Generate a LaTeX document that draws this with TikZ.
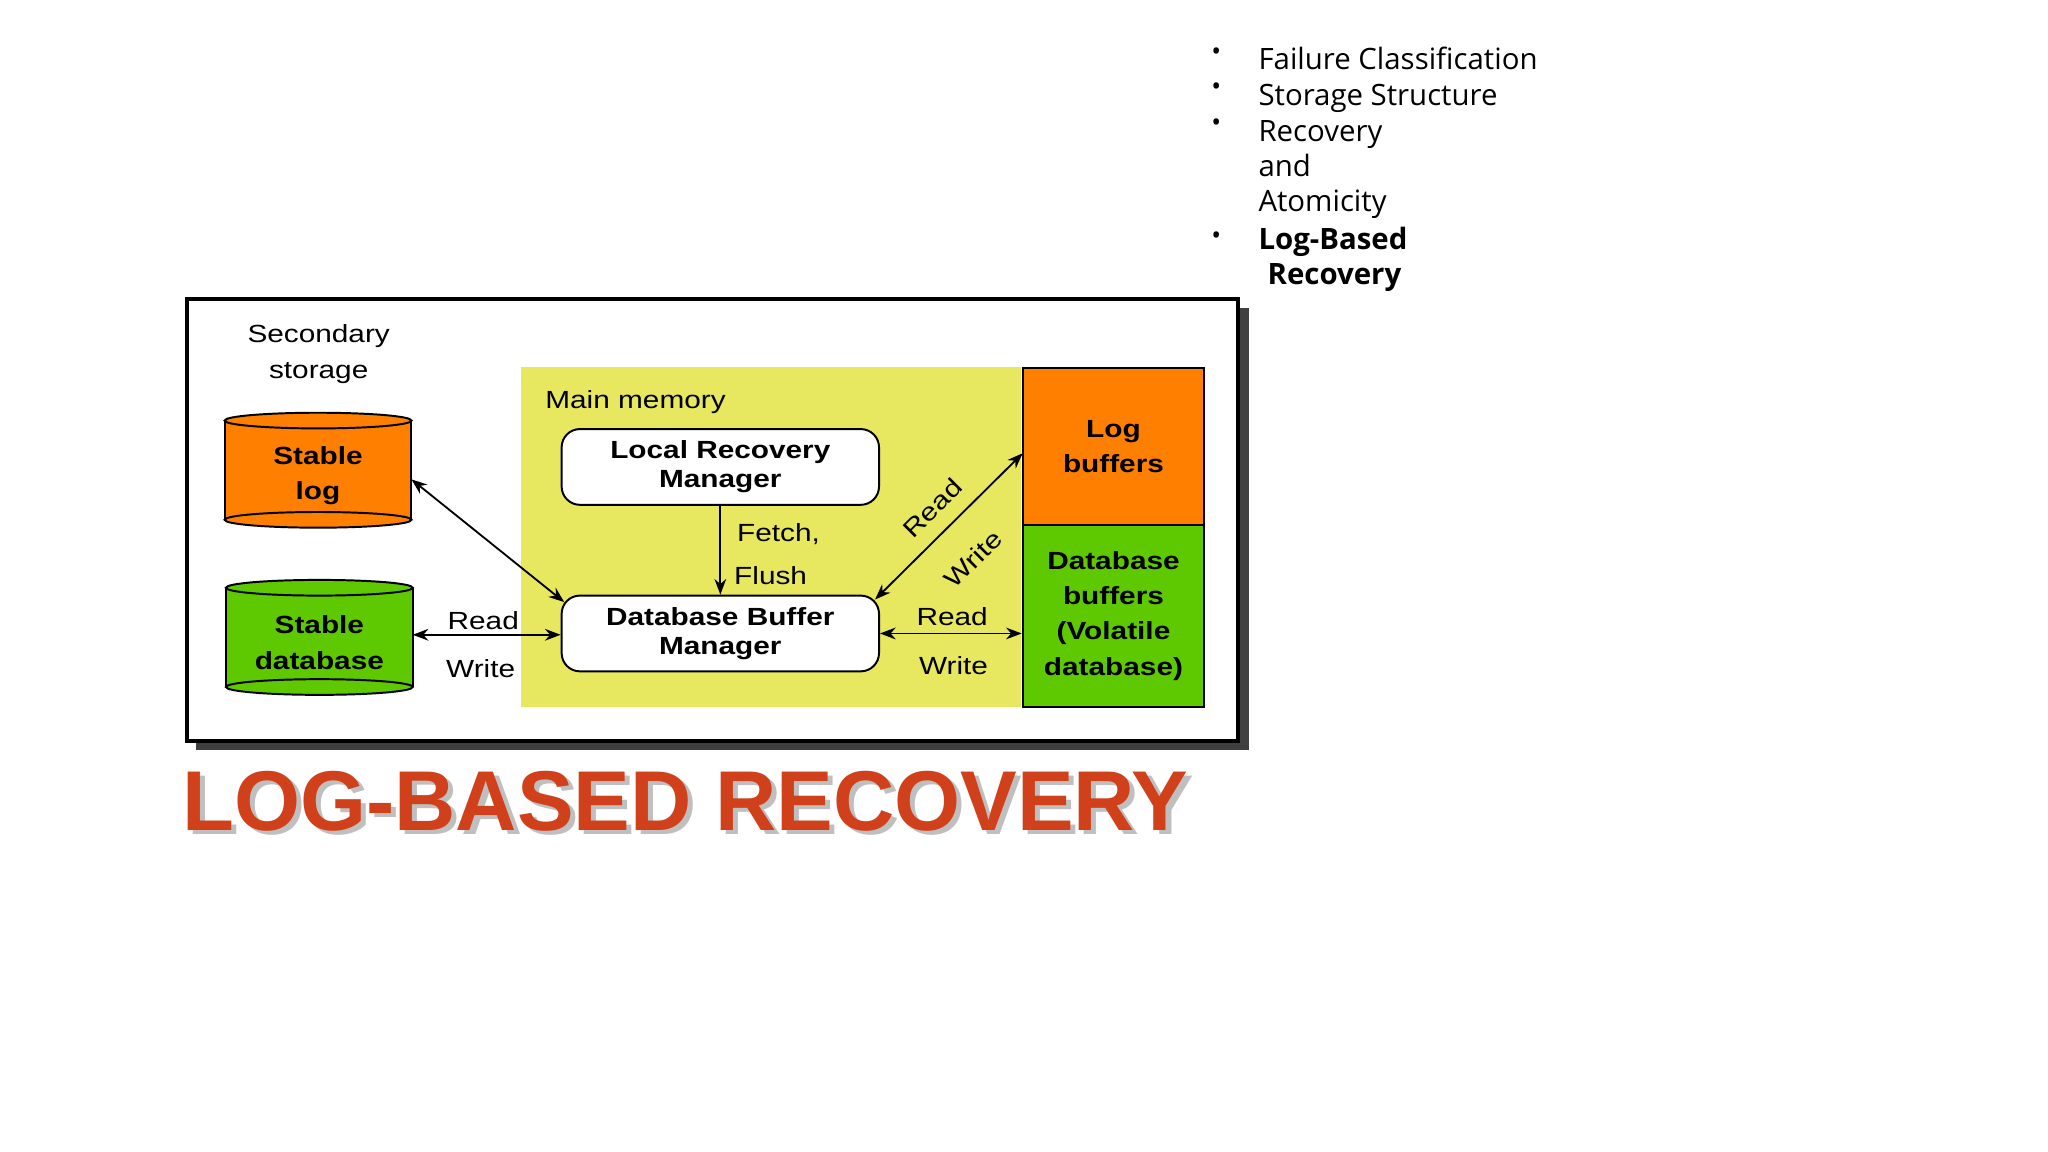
\documentclass[tikz,border=0pt]{standalone}
\usepackage{fontspec}
\setmainfont{Liberation Sans}
\newfontfamily\dg{Liberation Sans}[FakeStretch=1.2]
\newfontfamily\bul{Open Sans}
\usetikzlibrary{arrows.meta,shapes.geometric}
\definecolor{yel}{HTML}{E8E860}
\definecolor{org}{HTML}{FF8000}
\definecolor{grn}{HTML}{5EC800}
\definecolor{ttl}{HTML}{D0401A}
\begin{document}
\begin{tikzpicture}[x=1pt,y=-1pt,
  lab/.style={font=\dg\fontsize{19}{27}\selectfont},
  blab/.style={font=\dg\bfseries\fontsize{19}{27}\selectfont,align=center},
  rbox/.style={draw,line width=1.5pt,rounded corners=14pt,fill=white,minimum width=243pt,minimum height=58pt,font=\dg\bfseries\fontsize{19}{22}\selectfont,align=center},
  arr/.style={line width=1.4pt,{Stealth[length=12pt,width=9pt]}-{Stealth[length=12pt,width=9pt]}},
  bl/.style={font=\bul\fontsize{22.5}{26}\selectfont,anchor=base west}]
\useasboundingbox (0,0) rectangle (1568,882);
% shadow and frame
\fill[black!75] (150,236) rectangle (956,574);
\draw[line width=3pt,fill=white] (143,229) rectangle (948,567);
\fill[yel] (399,281) rectangle (782,541);
\node[draw,line width=1.5pt,fill=org,minimum width=139pt,minimum height=120pt,blab] (lb) at (852.5,342) {Log\\buffers};
\node[draw,line width=1.5pt,fill=grn,minimum width=139pt,minimum height=139pt,blab] (db) at (852.5,471.5) {Database\\buffers\\(Volatile\\database)};
% cylinders
\foreach \nm/\cx/\ty/\by/\c/\t in {sl/243.5/322/398/org/{Stable\\log}, sd/244.5/450/526/grn/{Stable\\database}}{
  \fill[fill=\c] (\cx-71.5,\ty) rectangle (\cx+71.5,\by);
  \filldraw[fill=\c,draw=black,line width=1.5pt] (\cx,\by) ellipse (71.5 and 6);
  \draw[line width=1.5pt] (\cx-71.5,\ty) -- (\cx-71.5,\by) (\cx+71.5,\ty) -- (\cx+71.5,\by);
  \filldraw[fill=\c,draw=black,line width=1.5pt] (\cx,\ty) ellipse (71.5 and 6);
  \node[blab,minimum width=143pt,minimum height=76pt] (\nm) at (\cx,{(\ty+\by)/2+4}) {\t};
}
\node[rbox] (lrm) at (551.5,357.5) {Local Recovery\\Manager};
\node[rbox] (dbm) at (551.5,485) {Database Buffer\\Manager};
\node[lab,align=center] (ss) at (244,271) {Secondary\\storage};
\node[lab,anchor=west] (mm) at (414,308) {Main memory};
% arrows
\coordinate (slr) at (315,367); \coordinate (dbmnw) at (432,461);
\draw[arr] (slr) -- (dbmnw);
\coordinate (sde) at (316,486);
\draw[arr] (sde) -- (dbm.west |- sde);
\draw[line width=1.4pt,-{Stealth[length=12pt,width=9pt]}] (lrm.south) -- (dbm.north);
\draw[arr] (dbm.east) -- (db.west |- dbm.east);
\coordinate (dbmne) at (670,459); \coordinate (lbw) at (783,347);
\draw[arr] (dbmne) -- (lbw);
\node[lab] (f1) at (596,409) {Fetch,};
\node[lab] (f2) at (590,441) {Flush};
\node[lab] (r1) at (370,475) {Read};
\node[lab] (w1) at (368,512) {Write};
\node[lab] (r2) at (729,472) {Read};
\node[lab] (w2) at (730,510) {Write};
\node[lab,rotate=45] (r3) at (714,389) {Read};
\node[lab,rotate=45] (w3) at (745,428) {Write};
% title
\node[anchor=base west,font=\bfseries\fontsize{65}{70}\selectfont,text=black!25] at (140,639) {LOG-BASED RECOVERY};
\node[anchor=base west,font=\bfseries\fontsize{65}{70}\selectfont,text=ttl] (title) at (136,636) {LOG-BASED RECOVERY};
% bullets
\foreach \y in {46,73,101,187} \node[bl,font=\bul\fontsize{20}{20}\selectfont] at (924,\y) {•};
\node[bl] at (960,53) {Failure Classification};
\node[bl] at (960,81) {Storage Structure};
\node[bl] at (960,108) {Recovery};
\node[bl] at (960,135) {and};
\node[bl] at (960,162) {Atomicity};
\node[bl,font=\bul\bfseries\fontsize{22.5}{26}\selectfont] at (960,191) {Log-Based};
\node[bl,font=\bul\bfseries\fontsize{22.5}{26}\selectfont] at (967,218) {Recovery};
\end{tikzpicture}
\end{document}
